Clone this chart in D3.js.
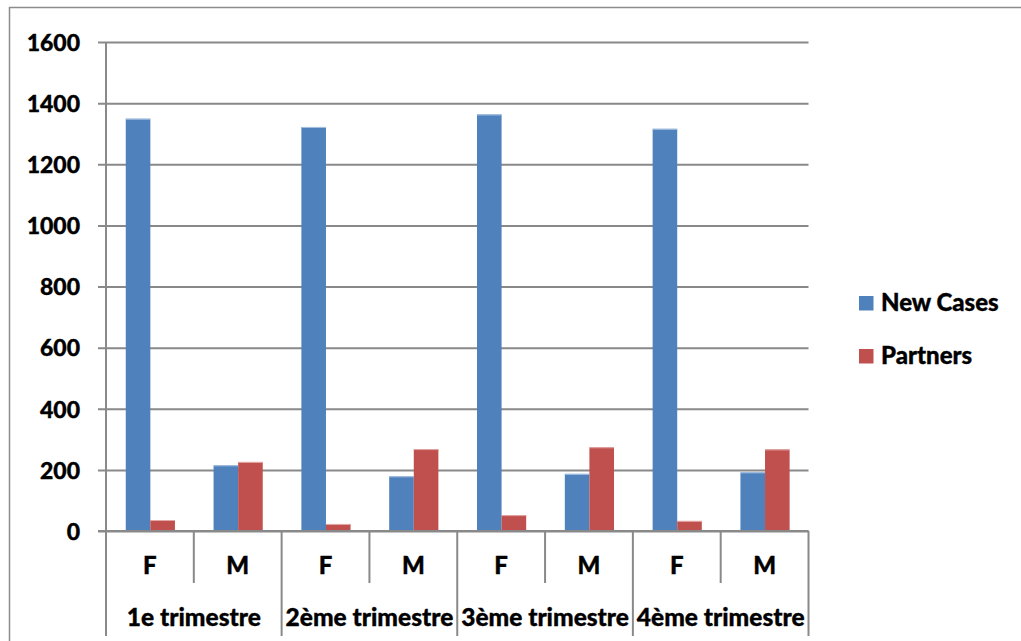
<!DOCTYPE html>
<html>
<head>
<meta charset="utf-8">
<script src="https://cdn.jsdelivr.net/npm/d3@7"></script>
<style>
  html, body { margin: 0; padding: 0; background: #fff; }
  svg { display: block; }
  text { font-family: Lato, "Open Sans", sans-serif; font-weight: 900; fill: #000;
         stroke: #000; stroke-width: 0.35px; }
</style>
</head>
<body>
<svg id="chart" width="1021" height="641"></svg>
<script>
// Quarterly counts, split by sex within each quarter
const quarters = ["1e trimestre", "2ème trimestre", "3ème trimestre", "4ème trimestre"];
const sexes = ["F", "M"];
const seriesNames = ["New Cases", "Partners"];
const newCases = [1349, 215, 1322, 179, 1363, 187, 1316, 192];
const partners = [36, 226, 23, 268, 52, 274, 33, 267];
const yTicks = [0, 200, 400, 600, 800, 1000, 1200, 1400, 1600];
const colors = ["#4f81bd", "#c0504d"];
const highlights = ["#a9c2e0", "#e3a9a7"];

// one row per quarter/sex slot
const rows = [];
quarters.forEach((q, qi) => sexes.forEach((s, si) => {
  const i = qi * sexes.length + si;
  rows.push({ key: q + "|" + s, quarter: q, sex: s, values: [newCases[i], partners[i]] });
}));

const svg = d3.select("#chart");
const plot = { left: 106, right: 808.5, top: 42, bottom: 531 };
const axisBottom = 636;
const gridColor = "#898989";

// chart frame (top and left edges)
svg.append("line").attr("x1", 9).attr("x2", 1021).attr("y1", 7.5).attr("y2", 7.5)
  .attr("stroke", "#8c8c8c").attr("stroke-width", 1.5);
svg.append("line").attr("x1", 9.5).attr("x2", 9.5).attr("y1", 7).attr("y2", 641)
  .attr("stroke", "#8c8c8c").attr("stroke-width", 1.5);

const y = d3.scaleLinear().domain([0, 1600]).range([plot.bottom, plot.top]);
const x = d3.scaleBand().domain(rows.map(r => r.key)).range([plot.left, plot.right]);
const xs = d3.scaleBand().domain(seriesNames)
  .range([x.bandwidth() * 0.225, x.bandwidth() * 0.785]);

// horizontal gridlines with short ticks to the left of the axis
const yAxis = d3.axisLeft(y).tickValues(yTicks).tickFormat(d3.format("d"))
  .tickSize(-(plot.right - plot.left)).tickSizeOuter(0).tickPadding(26);
const gy = svg.append("g").attr("transform", `translate(${plot.left},0)`).call(yAxis);
gy.select(".domain").remove();
gy.selectAll(".tick line").attr("stroke", gridColor).attr("stroke-width", 2)
  .attr("x1", -8);
gy.selectAll(".tick text").attr("font-size", 23).attr("dy", "0.36em")
  .style("font-family", "Lato, sans-serif").style("font-weight", 900).attr("fill", "#000");

// bars
const groups = svg.append("g").selectAll("g").data(rows).join("g")
  .attr("transform", d => `translate(${x(d.key)},0)`);
groups.selectAll("rect")
  .data(d => d.values.map((v, i) => ({ name: seriesNames[i], value: v, i })))
  .join("rect")
  .attr("x", d => xs(d.name))
  .attr("width", xs.bandwidth())
  .attr("y", d => y(d.value))
  .attr("height", d => y(0) - y(d.value))
  .attr("fill", d => colors[d.i]);
groups.selectAll("line.hl")
  .data(d => d.values.map((v, i) => ({ name: seriesNames[i], value: v, i })))
  .join("line").attr("class", "hl")
  .attr("x1", d => xs(d.name)).attr("x2", d => xs(d.name) + xs.bandwidth())
  .attr("y1", d => y(d.value) + 0.5).attr("y2", d => y(d.value) + 0.5)
  .attr("stroke", d => highlights[d.i]).attr("stroke-width", 1);

// value axis line and baseline
svg.append("line").attr("x1", plot.left).attr("x2", plot.left)
  .attr("y1", plot.top).attr("y2", axisBottom)
  .attr("stroke", gridColor).attr("stroke-width", 2);
svg.append("line").attr("x1", plot.left - 8).attr("x2", plot.right)
  .attr("y1", y(0)).attr("y2", y(0))
  .attr("stroke", gridColor).attr("stroke-width", 2);

// category axis: separators between slots, longer ones between quarters
rows.forEach((r, i) => {
  const xr = x(r.key) + x.bandwidth();
  const isQuarterEnd = (i % sexes.length) === sexes.length - 1;
  svg.append("line").attr("x1", xr).attr("x2", xr)
    .attr("y1", y(0)).attr("y2", isQuarterEnd ? axisBottom : 583)
    .attr("stroke", gridColor).attr("stroke-width", 2);
});

// sex labels
svg.append("g").selectAll("text").data(rows).join("text")
  .attr("x", d => x(d.key) + x.bandwidth() / 2)
  .attr("y", 574)
  .attr("text-anchor", "middle")
  .attr("font-size", 24)
  .text(d => d.sex);

// quarter labels
svg.append("g").selectAll("text").data(quarters).join("text")
  .attr("x", q => x(q + "|" + sexes[0]) + x.bandwidth())
  .attr("y", 626)
  .attr("text-anchor", "middle")
  .attr("font-size", 24.5)
  .text(q => q);

// legend
const legend = svg.append("g").selectAll("g").data(seriesNames).join("g")
  .attr("transform", (d, i) => `translate(859,${296 + i * 53})`);
legend.append("rect").attr("width", 14.5).attr("height", 14.5)
  .attr("fill", (d, i) => colors[i]);
legend.append("text").attr("x", 22).attr("y", 15)
  .attr("font-size", 24).text(d => d);
</script>
</body>
</html>
